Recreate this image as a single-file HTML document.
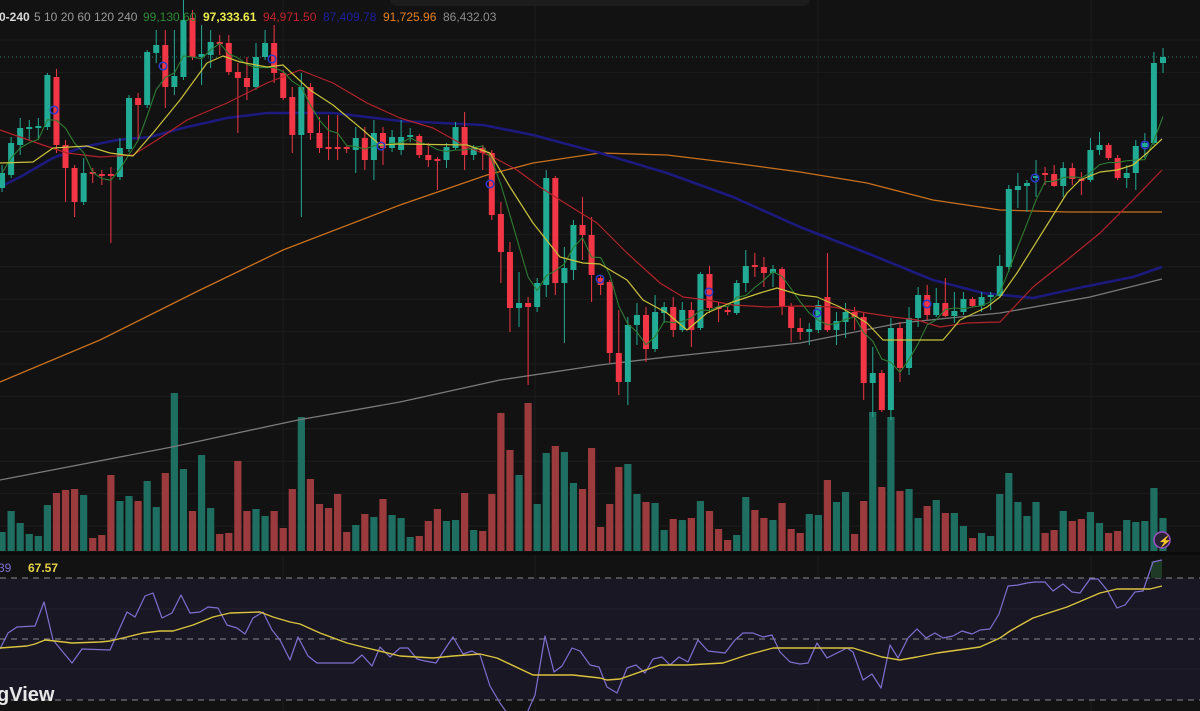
<!DOCTYPE html>
<html><head><meta charset="utf-8"><style>
html,body{margin:0;padding:0;background:#121212;overflow:hidden}
svg{display:block}
text{font-family:"Liberation Sans",sans-serif}
</style></head><body>
<svg id="s" width="1200" height="711" xmlns="http://www.w3.org/2000/svg">
<rect width="1200" height="711" fill="#121212"/>
<rect x="390" y="-10" width="420" height="16" rx="6" fill="#1c1c1c"/>
<g id="grid"></g>
<g id="vol"></g>
<g id="ma"></g>
<g id="c"></g>
<g id="ma2"></g>
<rect x="0" y="552" width="1200" height="3" fill="#0b0b0b"/>
<rect x="0" y="578" width="1200" height="122" fill="#1a1725"/>
<g id="rsi"></g>
<text x="-1" y="21" font-size="12" fill="#d8d8d8" font-weight="bold">0-240</text>
<text x="34" y="21" font-size="12" fill="#9a9a9a">5 10 20 60 120 240</text>
<text x="143" y="21" font-size="12" fill="#2f8a35">99,130.60</text>
<text x="203" y="21" font-size="12" fill="#ecec4c" font-weight="bold">97,333.61</text>
<text x="263" y="21" font-size="12" fill="#c4222c">94,971.50</text>
<text x="323" y="21" font-size="12" fill="#1e1ea0">87,409.78</text>
<text x="383" y="21" font-size="12" fill="#e6801f">91,725.96</text>
<text x="443" y="21" font-size="12" fill="#8c8c8c">86,432.03</text>
<text x="-2" y="572" font-size="12" fill="#7e6fd0">39</text>
<text x="28" y="572" font-size="12" fill="#e6d24a" font-weight="bold">67.57</text>
<text x="-3" y="701" font-size="20" fill="#e8e8e8" font-weight="bold">gView</text>
<circle cx="1162" cy="540" r="8" fill="#2a1f33" stroke="#9b4fc4" stroke-width="1.5"/>
<text x="1158" y="545" font-size="11" fill="#c98ae8">⚡</text>
</svg>
<script>
var NS="http://www.w3.org/2000/svg";
function el(p,t,a){var e=document.createElementNS(NS,t);for(var k in a)e.setAttribute(k,a[k]);document.getElementById(p).appendChild(e);return e;}
for(var y=40;y<540;y+=32.4)el("grid","line",{x1:0,x2:1200,y1:y,y2:y,stroke:"#1c1c1c","stroke-width":1});
[283,535,818,1091].forEach(function(x){el("grid","line",{x1:x,x2:x,y1:0,y2:711,stroke:"#1c1c1c","stroke-width":1});});
el("grid","line",{x1:0,x2:1200,y1:57,y2:57,stroke:"#2a7f6f","stroke-width":1,"stroke-dasharray":"1,3"});
var C=[[173,188,165,192,'g'],[143,175,137,178,'g'],[128,145,118,155,'g'],[127,129,120,140,'g'],[126,128,118,140,'g'],[75,127,73,130,'g'],[77,145,69,153,'r'],[145,168,140,202,'r'],[168,202,165,217,'r'],[173,202,158,205,'g'],[172,174,168,183,'r'],[174,176,170,185,'r'],[174,176,167,243,'r'],[148,177,138,180,'g'],[98,149,95,152,'g'],[98,105,93,140,'r'],[52,105,50,108,'g'],[45,53,30,63,'g'],[45,87,30,108,'r'],[76,87,30,95,'g'],[20,77,0,80,'g'],[18,57,10,60,'r'],[54,57,25,85,'g'],[42,55,30,68,'g'],[42,44,35,55,'r'],[43,72,35,75,'r'],[72,78,63,133,'r'],[78,87,57,100,'r'],[57,87,43,90,'g'],[43,57,30,60,'g'],[43,73,25,83,'r'],[73,98,70,100,'r'],[97,135,87,153,'r'],[87,135,73,217,'g'],[87,133,83,140,'r'],[133,148,117,153,'r'],[147,149,115,160,'r'],[147,149,115,160,'r'],[147,149,145,153,'r'],[138,150,127,173,'g'],[138,160,127,170,'r'],[133,160,120,180,'g'],[133,148,127,165,'r'],[137,148,130,152,'g'],[137,150,120,155,'g'],[135,137,128,142,'g'],[136,155,134,158,'r'],[155,160,143,167,'r'],[159,161,157,190,'r'],[147,160,143,168,'g'],[127,148,122,150,'g'],[127,155,112,170,'r'],[148,155,145,160,'g'],[148,153,145,170,'r'],[153,215,150,220,'r'],[214,252,202,283,'r'],[252,308,242,332,'r'],[303,308,272,327,'g'],[303,307,297,385,'r'],[283,307,278,312,'g'],[178,285,170,297,'g'],[178,283,176,295,'r'],[268,283,247,343,'g'],[225,270,220,280,'g'],[225,235,197,260,'r'],[235,275,217,302,'r'],[278,285,275,295,'r'],[282,353,280,363,'r'],[353,382,310,395,'r'],[325,382,317,405,'g'],[315,325,303,345,'g'],[315,349,307,362,'r'],[312,349,295,352,'g'],[307,313,302,323,'g'],[307,330,297,337,'r'],[310,330,302,332,'g'],[310,330,302,347,'r'],[274,328,272,330,'g'],[274,308,266,313,'r'],[307,309,302,322,'r'],[310,312,307,315,'r'],[283,313,280,315,'g'],[266,283,250,292,'g'],[265,267,253,277,'r'],[267,273,257,287,'r'],[269,273,265,287,'g'],[269,307,267,315,'r'],[307,328,303,342,'r'],[328,332,318,340,'r'],[329,332,323,345,'g'],[305,330,300,333,'g'],[297,330,253,332,'r'],[321,330,312,345,'g'],[312,322,303,338,'g'],[312,317,307,330,'r'],[317,383,313,400,'r'],[373,383,347,417,'g'],[373,410,370,412,'r'],[328,410,318,420,'g'],[328,368,322,382,'r'],[318,368,307,375,'g'],[295,318,287,327,'g'],[295,315,285,320,'r'],[303,315,288,317,'g'],[303,316,278,317,'r'],[311,316,292,323,'g'],[299,312,292,315,'g'],[299,306,297,307,'r'],[297,306,292,312,'g'],[295,297,292,310,'g'],[266,296,255,298,'g'],[189,267,185,272,'g'],[186,190,173,208,'g'],[183,186,180,212,'g'],[176,178,160,197,'g'],[173,175,167,185,'r'],[174,186,165,187,'r'],[168,186,162,197,'g'],[168,179,163,185,'r'],[179,181,172,195,'r'],[150,180,138,182,'g'],[145,150,132,155,'g'],[145,158,143,160,'r'],[158,178,155,180,'r'],[173,178,165,188,'g'],[146,173,140,190,'g'],[143,147,133,158,'g'],[63,143,52,145,'g'],[57,63,48,73,'g']];
var V=[532,511,523,534,536,505,493,490,489,495,538,535,475,501,496,501,481,507,473,393,469,511,455,508,534,533,461,511,509,516,511,528,489,417,479,504,508,494,532,525,514,517,499,515,518,537,536,521,509,521,520,493,530,531,494,413,450,475,403,504,453,446,452,483,489,448,527,504,467,464,494,502,503,530,519,520,518,501,511,529,540,535,497,510,518,520,503,529,533,514,515,480,502,492,534,501,412,487,417,491,489,518,506,500,513,513,526,538,533,536,494,473,502,516,502,533,530,511,521,519,512,523,533,531,520,522,521,488,518];
function X(i){return 1163-9.07*(128-i);}
for(var i=0;i<C.length;i++){
 var x=X(i),c=C[i];
 el("vol","rect",{x:x-3.6,y:V[i],width:7.2,height:551-V[i],fill:c[4]=='g'?'#1f6e62':'#9c3b3d'});
 var col=c[4]=='g'?'#22ab94':'#f23645';
 el("c","line",{x1:x,x2:x,y1:c[2],y2:c[3],stroke:col,"stroke-width":1});
 el("c","rect",{x:x-3,y:c[0],width:6,height:Math.max(1.5,c[1]-c[0]),fill:col});
}
function pl(g,pts,col,w){el(g,"polyline",{points:pts.map(function(p){return p.join(",")}).join(" "),fill:"none",stroke:col,"stroke-width":w,"stroke-linejoin":"round"});}
pl("ma",[[0,480],[172,447],[298,420],[400,402],[500,380],[600,365],[667,357],[733,350],[800,343],[900,323],[1000,313],[1090,297],[1162,279]],"#7a7a7a",1.3);
pl("ma",[[0,382],[100,340],[200,290],[283,250],[400,205],[487,175],[533,163],[600,153],[667,155],[733,163],[800,172],[867,183],[933,200],[1000,210],[1067,212],[1162,212]],"#c8701c",1.3);
pl("ma",[[0,187],[20,177],[53,158],[83,147],[117,140],[150,137],[183,128],[227,118],[267,113],[300,113],[333,113],[400,121],[483,125],[533,135],[600,153],[667,173],[733,197],[800,227],[867,253],[933,280],[983,293],[1033,298],[1083,287],[1133,277],[1162,267]],"#1c1a7e",2.6);
pl("ma2",[[0,130],[20,137],[43,145],[67,153],[100,157],[133,155],[157,140],[187,120],[227,103],[267,83],[300,70],[333,83],[367,103],[400,118],[433,128],[467,147],[493,157],[517,170],[540,187],[560,200],[597,223],[627,253],[660,283],[683,297],[707,300],[733,305],[767,307],[800,306],[833,307],[867,313],[893,317],[917,320],[940,327],[967,323],[1000,322],[1033,287],[1067,260],[1100,233],[1133,200],[1162,170]],"#b3222a",1.2);
var cl=C.map(function(c){return c[4]=='g'?c[0]:c[1];});var m5=[];
for(var i=0;i<C.length;i++){var s=0,n=0;for(var j=Math.max(0,i-4);j<=i;j++){s+=cl[j];n++;}m5.push([X(i),s/n]);}
pl("ma2",m5,"#2e7d32",1.1);
pl("ma2",[[0,163],[33,162],[53,148],[87,146],[110,153],[133,156],[153,133],[180,100],[207,63],[223,56],[240,62],[267,67],[283,65],[310,90],[333,105],[363,130],[380,145],[400,144],[467,145],[490,153],[510,187],[533,223],[560,257],[583,263],[600,264],[627,280],[643,300],[667,313],[687,330],[707,313],[730,303],[760,293],[777,288],[800,295],[817,297],[840,307],[867,323],[883,340],[900,340],[943,340],[960,320],[987,307],[1000,297],[1017,273],[1067,193],[1080,180],[1100,172],[1117,170],[1133,165],[1147,153],[1162,139]],"#c9c23a",1.2);
[[54,110],[163,66],[272,59],[381,146],[490,184],[600,279],[709,292],[817,313],[927,304],[1035,178],[1145,145]].forEach(function(p){el("ma2","circle",{cx:p[0],cy:p[1],r:3.8,fill:"none",stroke:"#2a3cc8","stroke-width":1.5});});
[578,639,700].forEach(function(y){el("rsi","line",{x1:0,x2:1200,y1:y,y2:y,stroke:"#8a8a8a","stroke-width":1,"stroke-dasharray":"6,5"});});
[609,669].forEach(function(y){el("rsi","line",{x1:0,x2:1200,y1:y,y2:y,stroke:"#24212f","stroke-width":1});});
el("rsi","rect",{x:1151,y:561,width:11,height:17,fill:"#1f3a26"});
pl("rsi",[[0,649],[8,633],[17,627],[35,626],[44,602],[53,640],[72,663],[82,649],[110,650],[127,612],[135,617],[145,596],[153,593],[162,618],[172,613],[181,595],[190,613],[200,612],[208,607],[218,608],[227,625],[237,628],[245,634],[253,618],[263,612],[272,630],[280,640],[290,660],[298,637],[308,656],[317,663],[353,663],[362,655],[372,666],[380,647],[390,657],[400,648],[408,648],[417,659],[425,661],[436,663],[443,652],[453,637],[463,654],[472,651],[480,655],[490,686],[500,703],[507,713],[527,713],[535,695],[545,636],[554,672],[562,666],[572,648],[580,651],[590,665],[599,667],[607,687],[617,693],[627,668],[636,665],[645,673],[653,659],[662,657],[670,665],[679,657],[688,662],[698,640],[708,651],[725,653],[735,640],[743,633],[753,633],[763,637],[772,635],[780,652],[790,662],[800,664],[808,663],[817,643],[827,658],[847,648],[853,652],[863,680],[872,674],[881,688],[890,645],[898,658],[908,638],[917,629],[926,638],[935,633],[943,638],[953,636],[962,631],[972,634],[980,630],[990,629],[999,614],[1008,586],[1018,585],[1027,583],[1035,582],[1045,582],[1053,591],[1063,584],[1072,592],[1080,593],[1090,579],[1098,579],[1107,590],[1117,608],[1125,605],[1135,592],[1143,591],[1153,562],[1162,560]],"#7e6fd0",1.2);
pl("rsi",[[0,648],[27,646],[35,644],[45,640],[55,641],[72,643],[100,642],[110,641],[127,637],[143,633],[160,631],[173,631],[193,625],[213,617],[230,613],[260,612],[273,617],[290,622],[300,624],[320,633],[347,643],[367,648],[400,656],[433,658],[453,656],[480,654],[497,658],[533,675],[573,675],[600,678],[607,680],[620,679],[660,665],[687,665],[723,663],[747,655],[773,648],[800,648],[853,648],[882,657],[900,660],[917,657],[937,653],[980,647],[1000,638],[1010,631],[1033,618],[1067,607],[1100,593],[1117,589],[1150,589],[1162,586]],"#d9c43c",1.4);
</script>
</body></html>
